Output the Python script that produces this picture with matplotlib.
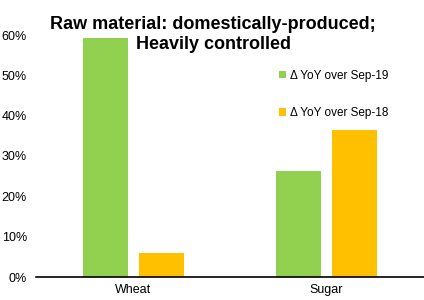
import matplotlib.pyplot as plt
import numpy as np
from matplotlib.ticker import PercentFormatter

plt.rcParams['font.family'] = ['Liberation Sans', 'DejaVu Sans']

categories = ['Wheat', 'Sugar']
yoy_sep19 = [0.593, 0.264]
yoy_sep18 = [0.060, 0.365]
labels = ['\u0394 YoY over Sep-19', '\u0394 YoY over Sep-18']

x = np.arange(len(categories))
w = 0.233

fig = plt.figure(figsize=(4.24, 3.0), dpi=100)
ax = fig.add_axes([36/424, 23/300, 388/424, 242/300])

ax.bar(x - w/2 - 0.029, yoy_sep19, w, color='#92D050', label=labels[0])
ax.bar(x + w/2 + 0.029, yoy_sep18, w, color='#FFC000', label=labels[1])

ax.set_xlim(-0.503, 1.505)
ax.set_ylim(0, 0.6)
ax.yaxis.set_major_formatter(PercentFormatter(1.0, decimals=0))
ax.set_yticks(np.arange(0, 0.61, 0.1))
ax.set_xticks(x)
ax.set_xticklabels(categories)
ax.tick_params(axis='both', length=0, labelsize=9, colors='#000000')
ax.tick_params(axis='y', pad=6.5)
ax.tick_params(axis='x', pad=5)
for s in ['top', 'right', 'left']:
    ax.spines[s].set_visible(False)
ax.spines['bottom'].set_linewidth(1.2)

ax.legend(loc='upper left', bbox_to_anchor=(0.6, 0.90), frameon=False,
          fontsize=8.5, handlelength=0.55, handleheight=0.55, handletextpad=0.35,
          labelspacing=2.15)

fig.text(0.503, 0.948, 'Raw material: domestically-produced;\nHeavily controlled',
         ha='center', va='top', fontsize=13, fontweight='bold', linespacing=1.25)

fig.savefig('out.png', dpi=100)
